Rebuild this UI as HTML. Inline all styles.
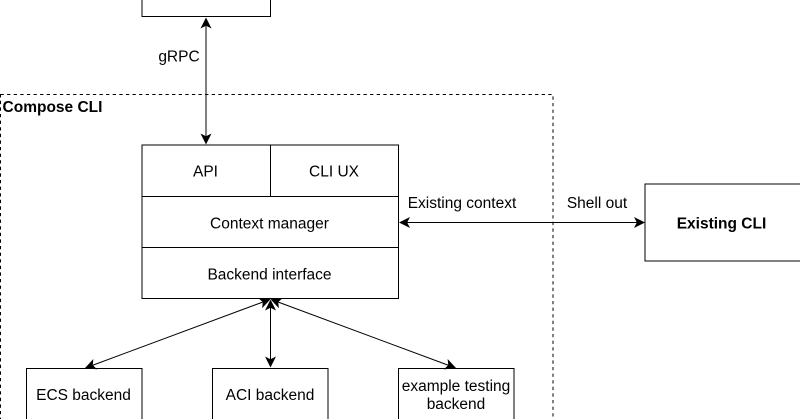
<!DOCTYPE html>
<html>
<head>
<meta charset="utf-8">
<style>
html,body{margin:0;padding:0;background:#fff;width:800px;height:419px;overflow:hidden}
svg{display:block}
text{font-family:"Liberation Sans",Arial,sans-serif;font-size:15.5px;fill:#000;text-anchor:middle}
.b{font-weight:bold}
.s{fill:none;stroke:#000;stroke-width:1}
</style>
</head>
<body>
<svg width="800" height="419" viewBox="0 0 800 419" xmlns="http://www.w3.org/2000/svg">
<defs>
<polygon id="h" points="0,0 -11,5.500 -8.200,0 -11,-5.500"/>
</defs>
<rect width="800" height="419" fill="#fff"/>
<rect x="0.5" y="94.5" width="552.5" height="340" fill="none" stroke="#000" stroke-width="1" stroke-dasharray="3.300 3.300"/>
<rect class="s" x="142" y="-40" width="128.500" height="56.500"/>
<rect class="s" x="142" y="145" width="128.500" height="51.500"/>
<rect class="s" x="270.500" y="145" width="128" height="51.500"/>
<rect class="s" x="142" y="196.500" width="256.500" height="51"/>
<rect class="s" x="142" y="247.500" width="256.500" height="51"/>
<rect class="s" x="645" y="184" width="156" height="77"/>
<rect class="s" x="26.500" y="368.500" width="115.500" height="70"/>
<rect class="s" x="212.500" y="368.500" width="115.500" height="70"/>
<rect class="s" x="398.500" y="368.500" width="115.500" height="70"/>

<line class="s" x1="206" y1="24" x2="206" y2="138"/>
<use href="#h" transform="translate(206,17.500) rotate(-90)"/>
<use href="#h" transform="translate(206,144.500) rotate(90)"/>

<line class="s" x1="406" y1="222.500" x2="638" y2="222.500"/>
<use href="#h" transform="translate(399,222.500) rotate(180)"/>
<use href="#h" transform="translate(645,222.500)"/>

<line class="s" x1="270.500" y1="306" x2="270.500" y2="361"/>
<use href="#h" transform="translate(270.500,299.500) rotate(-90)"/>
<use href="#h" transform="translate(270.500,367.500) rotate(90)"/>

<line class="s" x1="263" y1="302" x2="92" y2="365.500"/>
<use href="#h" transform="translate(270.500,299.300) rotate(-20.400)"/>
<use href="#h" transform="translate(85,368) rotate(159.600)"/>

<line class="s" x1="278" y1="302" x2="449" y2="365.500"/>
<use href="#h" transform="translate(270.500,299.300) rotate(200.400)"/>
<use href="#h" transform="translate(456,368) rotate(20.400)"/>

<text x="179" y="61.500">gRPC</text>
<text x="52.500" y="112" class="b">Compose CLI</text>
<text x="205.500" y="176.500">API</text>
<text x="334" y="176.500">CLI UX</text>
<text x="269.500" y="228.500">Context manager</text>
<text x="269.500" y="279.500">Backend interface</text>
<text x="462" y="208">Existing context</text>
<text x="597" y="208">Shell out</text>
<text x="721.500" y="228.500" class="b">Existing CLI</text>
<text x="83.500" y="400">ECS backend</text>
<text x="270" y="400">ACI backend</text>
<text x="456" y="391">example testing</text>
<text x="456" y="409">backend</text>
</svg>
</body>
</html>
